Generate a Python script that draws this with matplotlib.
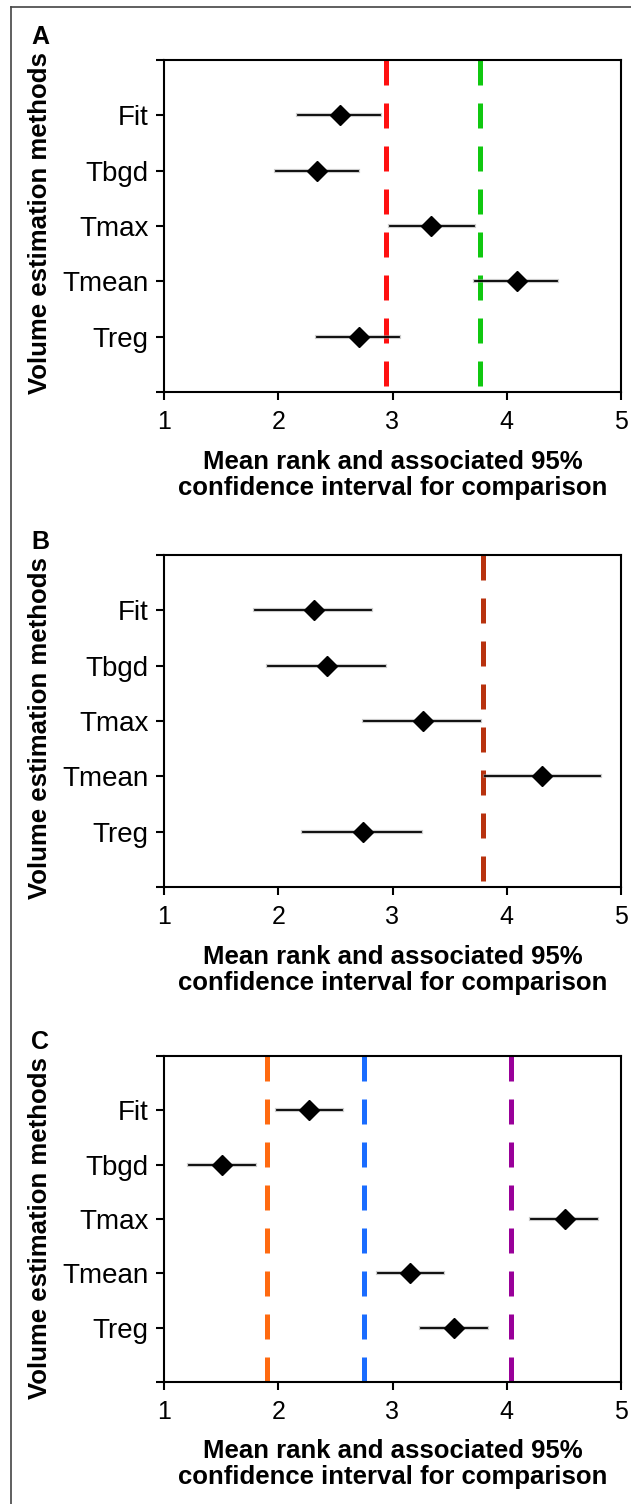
import numpy as np
import matplotlib.pyplot as plt
from matplotlib.lines import Line2D

plt.rcParams['font.family'] = ['Liberation Sans', 'DejaVu Sans']

methods = ['Fit', 'Tbgd', 'Tmax', 'Tmean', 'Treg']

# panel A
meanA = [2.54, 2.34, 3.34, 4.09, 2.71]
lowA = [2.17, 1.98, 2.98, 3.72, 2.34]
highA = [2.89, 2.70, 3.71, 4.44, 3.06]
refA = [2.94, 3.77]
refColA = ['#ff1010', '#10c810']

# panel B
meanB = [2.31, 2.43, 3.27, 4.31, 2.74]
lowB = [1.80, 1.91, 2.75, 3.81, 2.22]
highB = [2.81, 2.93, 3.77, 4.82, 3.25]
refB = [3.79]
refColB = ['#b8320e']

# panel C
meanC = [2.27, 1.51, 4.51, 3.15, 3.54]
lowC = [1.99, 1.22, 4.21, 2.87, 3.25]
highC = [2.56, 1.80, 4.79, 3.44, 3.83]
refC = [1.90, 2.75, 4.04]
refColC = ['#ff6a10', '#1a6cff', '#990099']

W, H = 631, 1504
fig = plt.figure(figsize=(W / 100, H / 100), dpi=100)

# frame around the figure (only top and left visible)
fig.add_artist(Line2D([11 / W, 1], [1 - 7 / H, 1 - 7 / H], color='#444444', lw=1.2))
fig.add_artist(Line2D([11 / W, 11 / W], [0, 1 - 7 / H], color='#444444', lw=1.2))


def panel(letter, letterY, top, bottom, means, lows, highs, refs, refCols):
    left, right = 164, 621
    ax = fig.add_axes([left / W, 1 - bottom / H, (right - left) / W, (bottom - top) / H])
    ypos = np.arange(1, len(methods) + 1)
    for x, c in zip(refs, refCols):
        ax.plot([x, x], [0, 6], color=c, lw=3.6, dashes=(5.0, 3.6), zorder=1)
    for y, m, lo, hi in zip(ypos, means, lows, highs):
        ax.plot([lo, hi], [y, y], color='#999999', lw=3, alpha=0.5, zorder=2)
        ax.plot([lo, hi], [y, y], color='black', lw=1.3, zorder=3)
        ax.plot(m, y, marker='D', ms=10.5, color='black', zorder=4)
    ax.set_xlim(1, 5)
    ax.set_ylim(6, 0)
    ax.set_xticks([1, 2, 3, 4, 5])
    ax.set_yticks(range(0, 7))
    ax.set_yticklabels([''] + methods + [''])
    ax.tick_params(axis='y', labelsize=20, length=6, width=1.5, pad=5)
    ax.tick_params(axis='x', labelsize=18, length=6, width=1.5, pad=7)
    for s in ax.spines.values():
        s.set_linewidth(1.5)
    ax.set_xlabel('Mean rank and associated 95%\nconfidence interval for comparison',
                  fontsize=18.5, fontweight='bold', linespacing=1.1)
    ax.xaxis.set_label_coords(0.5, -0.175)
    fig.text(40 / W, 1 - (letterY + 186) / H, 'Volume estimation methods', rotation=90,
             ha='center', va='center', fontsize=18.5, fontweight='bold')
    fig.text(40 / W, 1 - letterY / H, letter, ha='center', va='center',
             fontsize=18, fontweight='bold')
    return ax


panel('A', 37, 60, 392, meanA, lowA, highA, refA, refColA)
panel('B', 542, 555, 887, meanB, lowB, highB, refB, refColB)
panel('C', 1042, 1056, 1382, meanC, lowC, highC, refC, refColC)

plt.savefig('out.png', dpi=100)
